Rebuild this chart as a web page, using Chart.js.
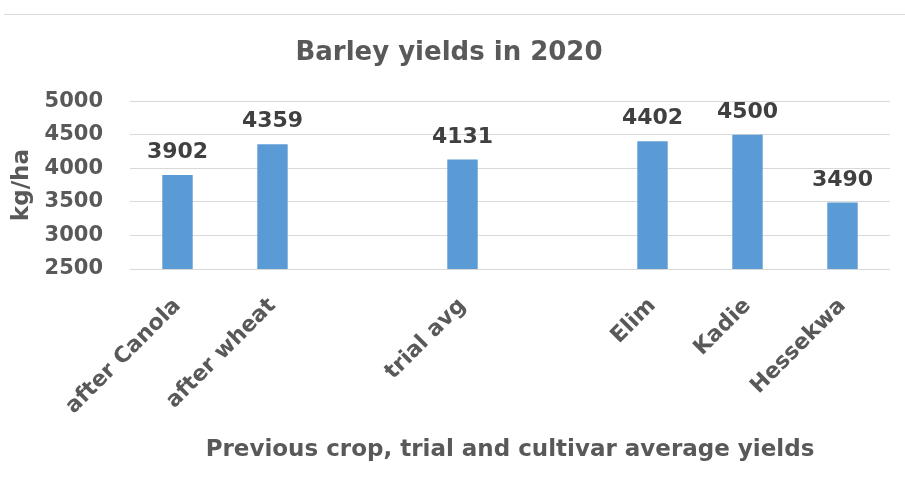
<!DOCTYPE html>
<html>
<head>
<meta charset="utf-8">
<script src="https://cdn.jsdelivr.net/npm/chart.js@4"></script>
<style>
  html, body { margin: 0; padding: 0; background: #fff; }
  #wrap { width: 905px; height: 486px; }
</style>
</head>
<body>
<div id="wrap"><canvas id="yieldCanvas" width="905" height="486"></canvas></div>
<script>
// categories (blank entries keep gaps between groups)
const categories = ['after Canola', 'after wheat', '', 'trial avg', '', 'Elim', 'Kadie', 'Hessekwa'];
const yields = [3902, 4359, null, 4131, null, 4402, 4500, 3490];
const yTicks = [2500, 3000, 3500, 4000, 4500, 5000];

const FONT = "'DejaVu Sans', sans-serif";
const GREY = '#595959';

// thin rule across the top of the frame
const topRule = {
    id: 'topRule',
    beforeDraw(chart) {
        const ctx = chart.ctx;
        ctx.save();
        ctx.strokeStyle = '#d9d9d9';
        ctx.lineWidth = 1;
        ctx.beginPath();
        ctx.moveTo(4, 14.5);
        ctx.lineTo(chart.width, 14.5);
        ctx.stroke();
        ctx.restore();
    }
};

// value labels above each bar
const barValues = {
    id: 'barValues',
    afterDatasetsDraw(chart) {
        const ctx = chart.ctx;
        const meta = chart.getDatasetMeta(0);
        ctx.save();
        ctx.font = 'bold 22px ' + FONT;
        ctx.fillStyle = '#404040';
        ctx.textAlign = 'center';
        ctx.textBaseline = 'alphabetic';
        meta.data.forEach((bar, i) => {
            const v = yields[i];
            if (v == null) return;
            ctx.fillText(String(v), bar.x, bar.y - 17);
        });
        ctx.restore();
    }
};

new Chart(
    document.getElementById('yieldCanvas'), {
    type: 'bar',
    data: {
        labels: categories,
        datasets: [{
            label: 'Yield',
            data: yields,
            backgroundColor: '#5b9bd5',
            barPercentage: 0.32,
            categoryPercentage: 1.0
        }]
    },
    options: {
        responsive: false,
        animation: false,
        layout: { padding: { left: 8, right: 15, top: 0, bottom: 22 } },
        plugins: {
            legend: { display: false },
            tooltip: { enabled: false },
            title: {
                display: true,
                text: 'Barley yields in 2020',
                color: GREY,
                font: { family: FONT, size: 26, weight: 'bold' },
                padding: { top: 38, bottom: 32 }
            }
        },
        scales: {
            x: {
                afterFit(scale) { scale.height = 486 - 22 - 269; },
                grid: { display: false },
                border: { display: false },
                ticks: {
                    color: GREY,
                    font: { family: FONT, size: 22, weight: 'bold' },
                    minRotation: 45,
                    maxRotation: 45,
                    autoSkip: false,
                    padding: 16
                },
                title: {
                    display: true,
                    text: 'Previous crop, trial and cultivar average yields',
                    color: GREY,
                    font: { family: FONT, size: 23, weight: 'bold' },
                    padding: { top: 0, bottom: 0 }
                }
            },
            y: {
                min: 2500,
                max: 5000,
                afterFit(scale) { scale.width = 122; },
                afterBuildTicks(scale) {
                    scale.ticks = yTicks.map(v => ({ value: v }));
                },
                grid: { color: '#d9d9d9', drawTicks: false },
                border: { display: false },
                ticks: {
                    color: GREY,
                    font: { family: FONT, size: 21, weight: 'bold' },
                    padding: 27,
                    callback: v => String(v)
                },
                title: {
                    display: true,
                    text: 'kg/ha',
                    color: GREY,
                    font: { family: FONT, size: 23, weight: 'bold' },
                    padding: 0
                }
            }
        }
    },
    plugins: [topRule, barValues]
});
</script>
</body>
</html>
